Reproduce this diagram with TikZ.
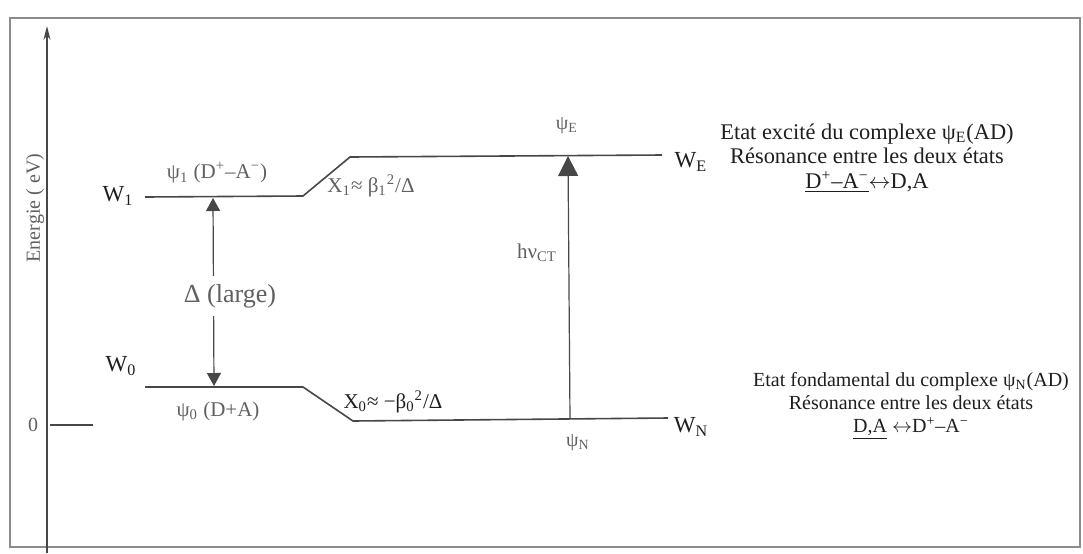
\documentclass[tikz,border=0pt]{standalone}
\usepackage{fontspec}
\setmainfont{Liberation Serif}
\usetikzlibrary{arrows.meta}
\definecolor{Ink}{HTML}{1E1E1E}
\definecolor{Rule}{HTML}{474747}
\definecolor{Frame}{HTML}{8C8C8C}
\definecolor{Faded}{HTML}{606060}

\begin{document}
\begin{tikzpicture}[x=0.5pt,y=-0.5pt,font=\fontsize{10}{11}\selectfont,
          level/.style={draw=Rule,line width=0.8pt},
          lvlname/.style={text=Ink,font=\fontsize{11.5}{12}\selectfont,inner sep=1pt},
          tag/.style={text=Faded,inner sep=1pt},
          note/.style={text=Ink,align=center,inner sep=1pt},
          gap/.style={{Triangle[length=6.5pt,width=7pt]}-{Triangle[length=6.5pt,width=7pt]},
            draw=Rule,line width=0.6pt},
          photon/.style={-{Triangle[length=10pt,width=10pt]},draw=Rule,line width=0.6pt}]
        \useasboundingbox (0,0) rectangle (1083,553);
        \draw[Frame,line width=0.7pt] (10,18) rectangle (1080,547);
        \draw[Rule,line width=0.6pt,-{Stealth[length=7pt,width=3.5pt]}]
          (47,553) -- (47,26);
        \node[tag,rotate=90] (axislbl) at (35,208) {Energie ( eV)};
        \node[tag] (zero) at (33,425) {0};
        \draw[level] (50,425) -- (93,425);

        % upper branch: psi_1 -> psi_E, lower branch: psi_0 -> psi_N
        \coordinate (w1l) at (145,197);
        \coordinate (w1r) at (303,196);
        \coordinate (wEl) at (350,157);
        \coordinate (wEr) at (662,155);
        \draw[level] (w1l) -- (w1r) -- (wEl) -- (wEr);
        \coordinate (w0l) at (145,387);
        \coordinate (w0r) at (303,387);
        \coordinate (wNl) at (353,421);
        \coordinate (wNr) at (668,418);
        \draw[level] (w0l) -- (w0r) -- (wNl) -- (wNr);

        \node[lvlname] (W1) at (118,196) {W\textsubscript{1}};
        \node[lvlname] (W0) at (121,366) {W\textsubscript{0}};
        \node[lvlname] (WE) at (691,162) {W\textsubscript{E}};
        \node[lvlname] (WN) at (691,427) {W\textsubscript{N}};

        \node[tag,font=\fontsize{10.5}{11}\selectfont] (psi1) at (217,173)
          {ψ\textsubscript{1} (D\textsuperscript{+}–A\textsuperscript{−})};
        \node[tag,font=\fontsize{10.5}{11}\selectfont] (psi0) at (218,411)
          {ψ\textsubscript{0} (D+A)};
        \node[tag,font=\fontsize{10.5}{11}\selectfont] (X1) at (371,186)
          {X\textsubscript{1}≈ β\textsubscript{1}\textsuperscript{2}/Δ};
        \node[tag,text=Ink,font=\fontsize{10.5}{11}\selectfont] (X0) at (393,402)
          {X\textsubscript{0}≈ −β\textsubscript{0}\textsuperscript{2}/Δ};
        \node[tag] (psiE) at (567,126) {ψ\textsubscript{E}};
        \node[tag] (psiN) at (578,443) {ψ\textsubscript{N}};

        \coordinate (dTop) at (213,198);
        \coordinate (dBot) at (214,386);
        \draw[gap] (dTop) -- (dBot);
        \node[tag,fill=white,inner ysep=4pt,font=\fontsize{13}{14}\selectfont]
          (delta) at (230,296) {Δ (large)};

        \coordinate (hvBot) at (570,419);
        \coordinate (hvTop) at (568,156);
        \draw[photon] (hvBot) -- (hvTop);
        \node[tag,font=\fontsize{10.5}{11}\selectfont] (hv) at (537,253)
          {hν\textsubscript{CT}};

        \node[note,font=\fontsize{11.2}{12.2}\selectfont] (excited) at (867,158)
          {Etat excité du complexe ψ\textsubscript{E}(AD)\\
           Résonance entre les deux états\\
           \underline{D\textsuperscript{+}–A\textsuperscript{−}}$\leftrightarrow$D,A};
        \node[note,font=\fontsize{10}{11.6}\selectfont] (ground) at (911,406)
          {Etat fondamental du complexe ψ\textsubscript{N}(AD)\\
           Résonance entre les deux états\\
           \underline{D,A} $\leftrightarrow$D\textsuperscript{+}–A\textsuperscript{−}};
      \end{tikzpicture}
\end{document}
